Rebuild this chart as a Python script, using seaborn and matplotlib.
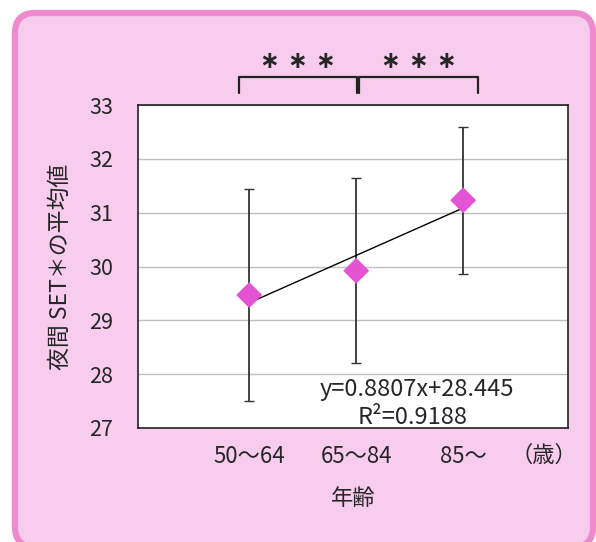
import numpy as np
import pandas as pd
import matplotlib.pyplot as plt
import seaborn as sns
from matplotlib.patches import FancyBboxPatch

# Daten
age_groups = ['50～64', '65～84', '85～']
set_mean = [29.47, 29.92, 31.23]
set_err = [1.97, 1.72, 1.37]
slope = 0.8807
intercept = 28.445
r2 = 0.9188
y_ticks = [27, 28, 29, 30, 31, 32, 33]
# Signifikanz-Klammern (von, bis) auf der Kategorie-Achse
brackets = [(-0.10, 1.01), (1.03, 2.14)]
sig_labels = ['∗ ∗ ∗', '∗ ∗ ∗']

pink_fill = '#F8CCEC'
pink_edge = '#EE8ACD'
marker_col = '#E453D2'

sns.set_theme(style='white')
jp = ['Noto Sans CJK JP', 'DejaVu Sans']
plt.rcParams['font.family'] = jp

fig = plt.figure(figsize=(5.96, 5.42), dpi=100)

# Hintergrund mit abgerundetem Rahmen (unten abgeschnitten wie im Original)
bg = fig.add_axes([0, 0, 1, 1], zorder=-5)
bg.set_xlim(0, 596)
bg.set_ylim(542, 0)
bg.axis('off')
bg.add_patch(FancyBboxPatch((15, 13), 578, 534, boxstyle='round,pad=0,rounding_size=20',
                            facecolor=pink_fill, edgecolor=pink_edge, linewidth=4.5,
                            clip_on=False))

ax = fig.add_axes([138 / 596, 1 - 428 / 542, 430 / 596, 323 / 542])
ax.set_facecolor('white')

df = pd.DataFrame({'age': age_groups, 'mean': set_mean, 'err': set_err})
xpos = np.arange(len(age_groups))

ax.errorbar(xpos, df['mean'], yerr=df['err'], fmt='none', ecolor='#333333',
            elinewidth=1.3, capsize=3.5, capthick=1.0, zorder=2)

# lineare Trendlinie
trend = pd.DataFrame({'x': xpos, 'y': slope * (xpos + 1) + intercept})
sns.lineplot(data=trend, x='x', y='y', ax=ax, color='black', linewidth=1.0, zorder=3)

sns.scatterplot(data=df.assign(x=xpos), x='x', y='mean', ax=ax, marker='D', s=175,
                color=marker_col, edgecolor='none', zorder=4, legend=False)

ax.set_xlim(-1.04, 2.98)
ax.set_ylim(y_ticks[0], y_ticks[-1])
ax.set_yticks(y_ticks)
ax.set_yticklabels([str(t) for t in y_ticks], fontsize=15.5)
ax.set_xticks(xpos)
ax.set_xticklabels(age_groups, fontsize=16)
ax.tick_params(axis='y', length=0, pad=18)
ax.tick_params(axis='x', length=0, pad=12)
ax.grid(axis='y', color='#C0C0C0', linewidth=1.0)
ax.grid(axis='x', visible=False)
for s in ax.spines.values():
    s.set_color('#222222')
    s.set_linewidth(1.2)
ax.set_xlabel('年齢', fontsize=16, labelpad=14)
ax.set_ylabel('夜間 SET＊の平均値', fontsize=16.5, labelpad=12)

ax.text(-0.56, 1.07, '(℃)', transform=ax.get_yaxis_transform(), ha='center', va='center',
        fontsize=13)
ax.text(2.75, -0.085, '（歳）', transform=ax.get_xaxis_transform(), ha='center', va='center',
        fontsize=16)

ax.text(1.57, 0.12, f'y={slope}x+{intercept}', transform=ax.get_xaxis_transform(),
        ha='center', va='center', fontsize=17)
ax.text(1.53, 0.033, f'R²={r2}', transform=ax.get_xaxis_transform(),
        ha='center', va='center', fontsize=17)

# Signifikanz-Klammern
tr = ax.get_xaxis_transform()
for (x0, x1), lab in zip(brackets, sig_labels):
    ax.plot([x0, x0, x1, x1], [1.037, 1.088, 1.088, 1.037], transform=tr,
            color='#222222', linewidth=1.6, clip_on=False, solid_joinstyle='round')
    ax.text((x0 + x1) / 2, 1.135, lab, transform=tr, ha='center', va='center',
            fontsize=17, fontweight='bold', family='DejaVu Sans')

fig.savefig('out.png', dpi=100)
